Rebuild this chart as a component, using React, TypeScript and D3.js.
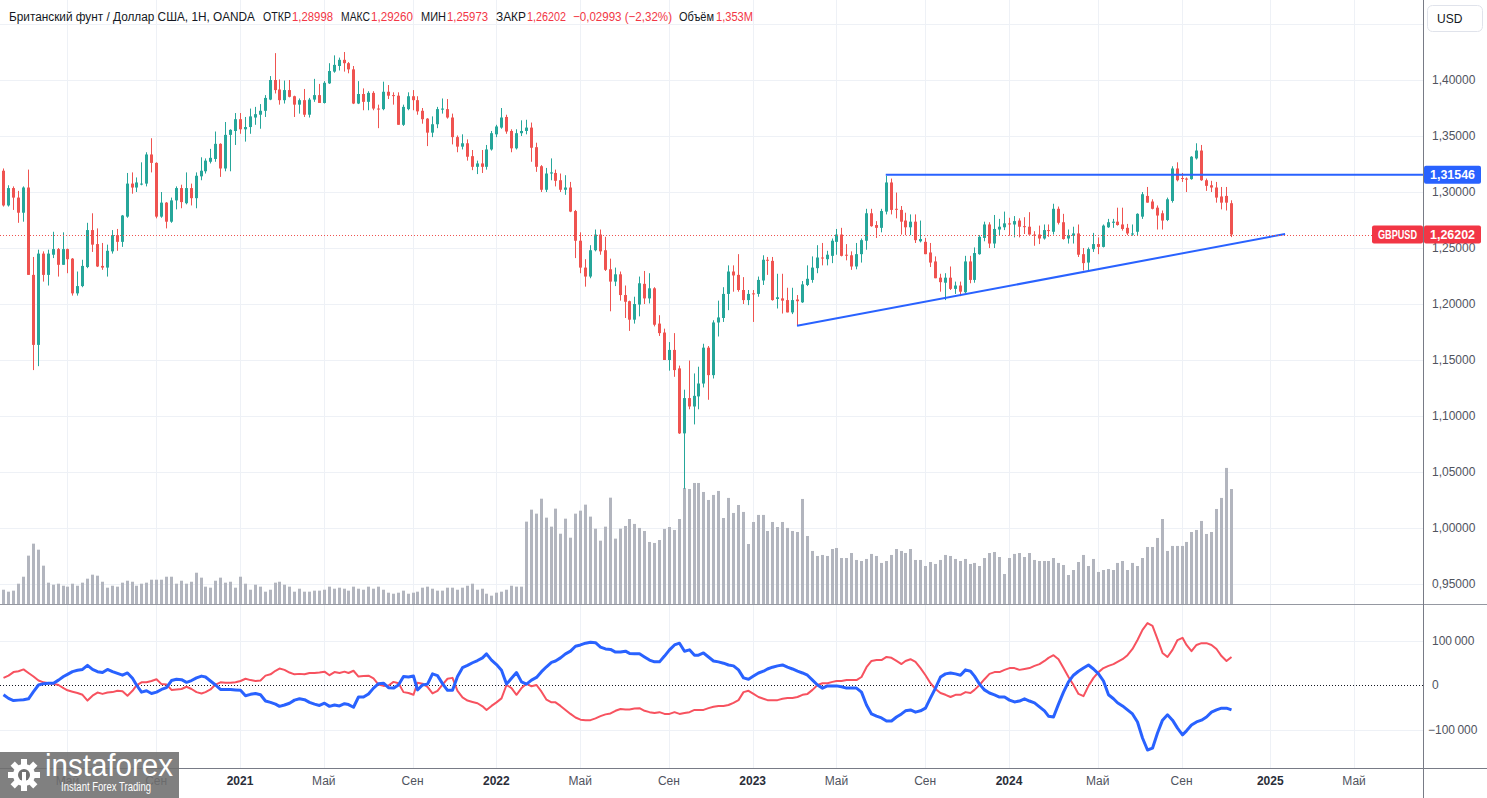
import React, { useEffect, useRef } from "react";
import * as d3 from "d3";

// weekly GBPUSD bars, first bar = week of 2020-02-03
const firstWeek = new Date(2020, 1, 3);

const opens = [
  1.3190, 1.2880, 1.3035, 1.2950, 1.2815, 1.3040, 1.2260, 1.1635, 1.2450, 1.2260,
  1.2440, 1.2490, 1.2350, 1.2490, 1.2405, 1.2095, 1.2160, 1.2330, 1.2660, 1.2535,
  1.2340, 1.2325, 1.2470, 1.2615, 1.2555, 1.2780, 1.3075, 1.3040, 1.3070, 1.3075,
  1.3335, 1.3260, 1.2780, 1.2905, 1.2735, 1.2925, 1.3035, 1.2900, 1.3035, 1.2945,
  1.3140, 1.3185, 1.3270, 1.3295, 1.3430, 1.3210, 1.3510, 1.3545, 1.3650, 1.3560,
  1.3580, 1.3665, 1.3690, 1.3725, 1.3825, 1.4000, 1.3915, 1.3820, 1.3910, 1.3855,
  1.3780, 1.3820, 1.3690, 1.3825, 1.3865, 1.3795, 1.3970, 1.4075, 1.4125, 1.4180,
  1.4150, 1.4095, 1.3790, 1.3875, 1.3805, 1.3885, 1.3745, 1.3740, 1.3895, 1.3865,
  1.3860, 1.3600, 1.3740, 1.3855, 1.3820, 1.3725, 1.3655, 1.3530, 1.3605, 1.3735,
  1.3740, 1.3665, 1.3490, 1.3405, 1.3435, 1.3320, 1.3225, 1.3255, 1.3225, 1.3380,
  1.3515, 1.3575, 1.3670, 1.3545, 1.3390, 1.3525, 1.3545, 1.3575, 1.3400, 1.3230,
  1.3020, 1.3165, 1.3170, 1.3105, 1.3020, 1.3040, 1.2830, 1.2565, 1.2325, 1.2245,
  1.2480, 1.2620, 1.2480, 1.2310, 1.2200, 1.2265, 1.2080, 1.2025, 1.1860, 1.1995,
  1.2180, 1.2050, 1.2140, 1.1825, 1.1745, 1.1500, 1.1590, 1.1425, 1.0845, 1.1160,
  1.1085, 1.1175, 1.1290, 1.1610, 1.1365, 1.1835, 1.1875, 1.2090, 1.2290, 1.2260,
  1.2125, 1.2035, 1.2095, 1.2090, 1.2210, 1.2395, 1.2385, 1.2045, 1.2050, 1.2035,
  1.1925, 1.2040, 1.2015, 1.2170, 1.2215, 1.2320, 1.2415, 1.2400, 1.2430, 1.2555,
  1.2620, 1.2440, 1.2435, 1.2335, 1.2445, 1.2565, 1.2810, 1.2705, 1.2680, 1.2825,
  1.3085, 1.2850, 1.2840, 1.2745, 1.2685, 1.2735, 1.2560, 1.2555, 1.2460, 1.2380,
  1.2235, 1.2190, 1.2235, 1.2135, 1.2165, 1.2105, 1.2380, 1.2215, 1.2445, 1.2590,
  1.2710, 1.2540, 1.2665, 1.2685, 1.2720, 1.2710, 1.2745, 1.2695, 1.2690, 1.2620,
  1.2620, 1.2585, 1.2660, 1.2645, 1.2850, 1.2730, 1.2585, 1.2610, 1.2630, 1.2445,
  1.2370, 1.2490, 1.2535, 1.2510, 1.2685, 1.2725, 1.2735, 1.2710, 1.2680, 1.2620,
  1.2645, 1.2780, 1.2965, 1.2915, 1.2860, 1.2810, 1.2750, 1.2920, 1.3210, 1.3125,
  1.3120, 1.3115, 1.3300, 1.3370, 1.3105, 1.3060, 1.3040, 1.2960, 1.2965, 1.28998,
];

const highs = [
  1.3210, 1.3060, 1.3050, 1.3010, 1.3050, 1.3200, 1.2420, 1.2485, 1.2470, 1.2485,
  1.2645, 1.2500, 1.2640, 1.2495, 1.2410, 1.2290, 1.2395, 1.2725, 1.2810, 1.2675,
  1.2545, 1.2530, 1.2660, 1.2670, 1.2795, 1.3170, 1.3175, 1.3130, 1.3265, 1.3355,
  1.3480, 1.3265, 1.3000, 1.2910, 1.2950, 1.3050, 1.3065, 1.3175, 1.3075, 1.3175,
  1.3310, 1.3300, 1.3385, 1.3540, 1.3435, 1.3625, 1.3560, 1.3705, 1.3705, 1.3670,
  1.3745, 1.3760, 1.3785, 1.3865, 1.4035, 1.4240, 1.4005, 1.3995, 1.4000, 1.3860,
  1.3835, 1.3920, 1.3840, 1.4010, 1.3965, 1.3990, 1.4150, 1.4220, 1.4200, 1.4250,
  1.4160, 1.4125, 1.3990, 1.3925, 1.3900, 1.3900, 1.3780, 1.3985, 1.3955, 1.3890,
  1.3890, 1.3780, 1.3890, 1.3910, 1.3855, 1.3750, 1.3660, 1.3675, 1.3760, 1.3835,
  1.3830, 1.3700, 1.3505, 1.3515, 1.3470, 1.3375, 1.3280, 1.3375, 1.3420, 1.3545,
  1.3600, 1.3750, 1.3690, 1.3560, 1.3560, 1.3640, 1.3645, 1.3620, 1.3440, 1.3240,
  1.3215, 1.3300, 1.3200, 1.3165, 1.3150, 1.3090, 1.2840, 1.2640, 1.2400, 1.2525,
  1.2665, 1.2665, 1.2600, 1.2405, 1.2325, 1.2290, 1.2165, 1.2030, 1.2065, 1.2245,
  1.2295, 1.2275, 1.2150, 1.1900, 1.1780, 1.1660, 1.1740, 1.1450, 1.1235, 1.1495,
  1.1380, 1.1440, 1.1645, 1.1625, 1.1855, 1.2030, 1.2150, 1.2345, 1.2345, 1.2445,
  1.2240, 1.2125, 1.2125, 1.2245, 1.2435, 1.2420, 1.2420, 1.2270, 1.2270, 1.2145,
  1.2145, 1.2080, 1.2205, 1.2345, 1.2425, 1.2525, 1.2545, 1.2475, 1.2585, 1.2670,
  1.2680, 1.2535, 1.2470, 1.2545, 1.2585, 1.2850, 1.2850, 1.2740, 1.2850, 1.3145,
  1.3120, 1.2995, 1.2875, 1.2815, 1.2800, 1.2800, 1.2745, 1.2590, 1.2545, 1.2425,
  1.2270, 1.2275, 1.2335, 1.2200, 1.2200, 1.2430, 1.2430, 1.2505, 1.2615, 1.2735,
  1.2730, 1.2795, 1.2760, 1.2825, 1.2770, 1.2785, 1.2765, 1.2775, 1.2820, 1.2650,
  1.2700, 1.2710, 1.2710, 1.2895, 1.2870, 1.2805, 1.2665, 1.2690, 1.2710, 1.2500,
  1.2505, 1.2635, 1.2595, 1.2710, 1.2760, 1.2760, 1.2860, 1.2860, 1.2715, 1.2710,
  1.2810, 1.3000, 1.3045, 1.2935, 1.2880, 1.2835, 1.2950, 1.3230, 1.3265, 1.3170,
  1.3130, 1.3320, 1.3435, 1.3420, 1.3120, 1.3100, 1.3090, 1.3045, 1.3045, 1.29260,
];

const lows = [
  1.2870, 1.2870, 1.2840, 1.2725, 1.2735, 1.2260, 1.1410, 1.1445, 1.2200, 1.2165,
  1.2410, 1.2245, 1.2350, 1.2275, 1.2075, 1.2075, 1.2150, 1.2320, 1.2465, 1.2330,
  1.2305, 1.2245, 1.2450, 1.2475, 1.2510, 1.2770, 1.2985, 1.3000, 1.3060, 1.3050,
  1.3175, 1.2765, 1.2770, 1.2675, 1.2725, 1.2845, 1.2855, 1.2890, 1.2880, 1.2855,
  1.3105, 1.3165, 1.3255, 1.3270, 1.3135, 1.3185, 1.3185, 1.3420, 1.3520, 1.3450,
  1.3520, 1.3600, 1.3565, 1.3670, 1.3820, 1.3880, 1.3780, 1.3790, 1.3845, 1.3670,
  1.3700, 1.3670, 1.3665, 1.3805, 1.3795, 1.3790, 1.3965, 1.4065, 1.4085, 1.4075,
  1.4060, 1.3785, 1.3785, 1.3730, 1.3730, 1.3730, 1.3570, 1.3730, 1.3830, 1.3780,
  1.3600, 1.3590, 1.3730, 1.3730, 1.3690, 1.3610, 1.3410, 1.3490, 1.3570, 1.3700,
  1.3655, 1.3425, 1.3355, 1.3380, 1.3280, 1.3195, 1.3160, 1.3170, 1.3200, 1.3370,
  1.3490, 1.3565, 1.3520, 1.3355, 1.3380, 1.3500, 1.3515, 1.3270, 1.3180, 1.3000,
  1.3000, 1.3105, 1.3050, 1.3000, 1.2975, 1.2820, 1.2410, 1.2275, 1.2155, 1.2230,
  1.2470, 1.2440, 1.2295, 1.1935, 1.2160, 1.2030, 1.1875, 1.1760, 1.1825, 1.1890,
  1.2000, 1.2005, 1.1800, 1.1715, 1.1500, 1.1405, 1.1350, 1.0840, 1.0350, 1.1060,
  1.0925, 1.1060, 1.1255, 1.1145, 1.1335, 1.1710, 1.1840, 1.1945, 1.2110, 1.2110,
  1.2000, 1.1990, 1.1840, 1.2065, 1.2170, 1.2260, 1.2030, 1.1960, 1.1915, 1.1925,
  1.1910, 1.1805, 1.2010, 1.2160, 1.2190, 1.2275, 1.2345, 1.2345, 1.2365, 1.2440,
  1.2425, 1.2390, 1.2305, 1.2310, 1.2370, 1.2485, 1.2690, 1.2590, 1.2640, 1.2800,
  1.2800, 1.2765, 1.2620, 1.2615, 1.2615, 1.2545, 1.2550, 1.2445, 1.2330, 1.2230,
  1.2110, 1.2035, 1.2125, 1.2090, 1.2070, 1.2095, 1.2185, 1.2190, 1.2440, 1.2560,
  1.2500, 1.2500, 1.2610, 1.2660, 1.2610, 1.2595, 1.2595, 1.2625, 1.2620, 1.2520,
  1.2535, 1.2575, 1.2600, 1.2620, 1.2710, 1.2575, 1.2540, 1.2540, 1.2420, 1.2300,
  1.2300, 1.2465, 1.2445, 1.2505, 1.2680, 1.2680, 1.2700, 1.2655, 1.2615, 1.2610,
  1.2615, 1.2760, 1.2905, 1.2845, 1.2665, 1.2665, 1.2740, 1.2905, 1.3095, 1.3090,
  1.3000, 1.3110, 1.3290, 1.3100, 1.3010, 1.3000, 1.2905, 1.2845, 1.2835, 1.25973,
];

const closes = [
  1.2880, 1.3035, 1.2950, 1.2815, 1.3040, 1.2260, 1.1635, 1.2450, 1.2260, 1.2450,
  1.2490, 1.2350, 1.2490, 1.2400, 1.2095, 1.2160, 1.2340, 1.2660, 1.2530, 1.2335,
  1.2325, 1.2475, 1.2615, 1.2555, 1.2790, 1.3075, 1.3040, 1.3085, 1.3075, 1.3335,
  1.3260, 1.2780, 1.2905, 1.2735, 1.2925, 1.3035, 1.2910, 1.3035, 1.2945, 1.3145,
  1.3190, 1.3280, 1.3305, 1.3430, 1.3210, 1.3510, 1.3555, 1.3650, 1.3560, 1.3580,
  1.3675, 1.3695, 1.3725, 1.3840, 1.4000, 1.3910, 1.3820, 1.3910, 1.3850, 1.3780,
  1.3820, 1.3690, 1.3825, 1.3865, 1.3795, 1.3975, 1.4080, 1.4135, 1.4180, 1.4150,
  1.4095, 1.3790, 1.3875, 1.3805, 1.3885, 1.3745, 1.3740, 1.3895, 1.3860, 1.3860,
  1.3600, 1.3760, 1.3855, 1.3820, 1.3720, 1.3650, 1.3530, 1.3605, 1.3740, 1.3745,
  1.3665, 1.3490, 1.3405, 1.3435, 1.3315, 1.3225, 1.3255, 1.3225, 1.3380, 1.3525,
  1.3585, 1.3665, 1.3540, 1.3390, 1.3525, 1.3545, 1.3575, 1.3395, 1.3225, 1.3020,
  1.3165, 1.3175, 1.3100, 1.3020, 1.3040, 1.2825, 1.2565, 1.2325, 1.2245, 1.2480,
  1.2620, 1.2470, 1.2305, 1.2200, 1.2265, 1.2080, 1.2020, 1.1860, 1.2000, 1.2185,
  1.2050, 1.2140, 1.1815, 1.1740, 1.1500, 1.1590, 1.1410, 1.0845, 1.1160, 1.1085,
  1.1180, 1.1290, 1.1610, 1.1365, 1.1835, 1.1880, 1.2090, 1.2290, 1.2255, 1.2125,
  1.2035, 1.2090, 1.2090, 1.2215, 1.2395, 1.2390, 1.2035, 1.2060, 1.2030, 1.1925,
  1.2035, 1.2025, 1.2175, 1.2225, 1.2325, 1.2415, 1.2410, 1.2440, 1.2565, 1.2620,
  1.2430, 1.2435, 1.2335, 1.2445, 1.2570, 1.2810, 1.2695, 1.2680, 1.2830, 1.3085,
  1.2840, 1.2845, 1.2735, 1.2685, 1.2735, 1.2570, 1.2580, 1.2445, 1.2370, 1.2230,
  1.2195, 1.2235, 1.2135, 1.2165, 1.2110, 1.2380, 1.2215, 1.2455, 1.2600, 1.2710,
  1.2540, 1.2670, 1.2690, 1.2720, 1.2710, 1.2740, 1.2690, 1.2690, 1.2620, 1.2615,
  1.2585, 1.2660, 1.2655, 1.2850, 1.2725, 1.2580, 1.2615, 1.2630, 1.2440, 1.2365,
  1.2490, 1.2535, 1.2510, 1.2700, 1.2730, 1.2735, 1.2705, 1.2670, 1.2630, 1.2630,
  1.2805, 1.2980, 1.2905, 1.2850, 1.2790, 1.2745, 1.2935, 1.3210, 1.3105, 1.3120,
  1.3110, 1.3315, 1.3370, 1.3105, 1.3055, 1.3040, 1.2950, 1.2905, 1.2905, 1.26202,
];

// volume, thousands
const volumes = [
  168, 145, 157, 239, 321, 569, 710, 639, 451, 251,
  227, 239, 215, 204, 239, 215, 251, 298, 345, 333,
  262, 192, 215, 204, 251, 274, 262, 215, 239, 251,
  286, 286, 286, 321, 321, 239, 274, 239, 262, 368,
  310, 204, 192, 274, 310, 251, 262, 192, 321, 239,
  168, 227, 204, 145, 168, 251, 262, 227, 204, 145,
  180, 145, 145, 157, 157, 168, 204, 180, 192, 180,
  157, 204, 180, 168, 204, 180, 204, 168, 133, 121,
  133, 157, 121, 133, 145, 192, 204, 180, 157, 157,
  192, 192, 168, 192, 215, 239, 168, 180, 121, 98,
  133, 145, 168, 215, 204, 204, 969, 1110, 1063, 1239,
  1016, 910, 1122, 827, 1004, 780, 1063, 1098, 1169, 1028,
  886, 745, 910, 1251, 769, 886, 918, 1000, 942, 895,
  859, 730, 718, 753, 883, 906, 871, 1000, 1365, 1353,
  1424, 1424, 1318, 1224, 1283, 1330, 1012, 1248, 1071, 1165,
  1083, 706, 965, 1048, 1048, 859, 965, 906, 965, 895,
  859, 847, 1236, 800, 624, 565, 577, 565, 647, 659,
  541, 541, 600, 518, 506, 530, 589, 565, 483, 506,
  577, 647, 624, 600, 647, 518, 518, 447, 494, 471,
  518, 577, 565, 530, 506, 530, 471, 483, 447, 541,
  600, 612, 553, 353, 541, 589, 600, 553, 600, 518,
  506, 506, 506, 541, 483, 459, 341, 400, 494, 577,
  447, 530, 377, 400, 412, 400, 483, 506, 400, 483,
  447, 541, 671, 671, 777, 1000, 624, 683, 683, 683,
  730, 847, 871, 977, 824, 847, 1118, 1248, 1601, 1353,
];

// lower pane, thousands
const blueLine = [
  -22, -30, -35, -34, -33, -31, -15, 0, 3, 4,
  4, 11, 19, 24, 30, 33, 35, 44, 35, 30,
  28, 35, 30, 26, 22, 27, 15, 0, -16, -13,
  -19, -16, -10, -6, 10, 13, 12, 6, 10, 16,
  20, 18, 9, 0, -10, -10, -10, -11, -12, -24,
  -21, -19, -22, -36, -39, -43, -48, -45, -41, -34,
  -31, -33, -39, -43, -46, -41, -48, -45, -47, -42,
  -44, -50, -27, -27, -20, -7, 3, 4, -6, -7,
  0, 19, 18, 20, -11, 0, 2, 25, 21, 3,
  -12, -12, 19, 39, 44, 50, 55, 61, 70, 56,
  46, 33, 2, 15, 28, 7, 2, 11, 17, 30,
  41, 51, 54, 61, 70, 76, 87, 90, 94, 96,
  95, 85, 81, 80, 74, 74, 76, 71, 70, 70,
  63, 56, 52, 52, 65, 79, 90, 94, 76, 79,
  67, 67, 72, 63, 54, 52, 49, 45, 43, 34,
  16, 13, 20, 27, 31, 36, 40, 43, 45, 40,
  36, 31, 27, 22, 11, 0, -7, -2, -2, -2,
  -4, -7, -7, -7, -16, -45, -65, -70, -74, -81,
  -81, -72, -65, -58, -56, -61, -58, -52, -29, -7,
  18, 25, 27, 25, 22, 34, 31, 20, 2, -11,
  -18, -22, -27, -27, -34, -38, -36, -31, -36, -40,
  -49, -58, -70, -72, -43, -16, 7, 22, 31, 38,
  45, 36, 25, 9, -22, -31, -40, -47, -56, -65,
  -83, -119, -146, -142, -108, -79, -67, -79, -97, -112,
  -103, -90, -83, -79, -72, -61, -56, -52, -52, -56,
];

const redLine = [
  16, 21, 29, 31, 35, 27, 19, 10, 6, 4,
  3, 0, -7, -12, -15, -18, -22, -35, -24, -17,
  -20, -17, -16, -13, -14, -24, -13, -1, 6, 6,
  9, 13, 2, 1, -11, -10, -9, -4, -9, -16,
  -19, -16, -10, 1, 6, 5, 5, 6, 9, 14,
  11, 9, 10, 21, 24, 32, 37, 34, 28, 24,
  25, 24, 27, 27, 28, 30, 22, 29, 27, 30,
  27, 32, 19, 20, 21, 15, 1, -2, -1, 7,
  4, -16, -18, -22, 5, 3, -4, -19, -13, 1,
  14, 16, -13, -28, -35, -38, -41, -48, -56, -47,
  -39, -30, 0, -7, -22, -7, 3, -3, 0, -15,
  -33, -39, -39, -47, -56, -65, -73, -78, -79, -79,
  -75, -70, -66, -64, -58, -54, -55, -55, -53, -52,
  -58, -61, -63, -61, -65, -65, -61, -65, -63, -61,
  -56, -56, -56, -52, -49, -47, -47, -45, -40, -34,
  -16, -13, -20, -27, -31, -34, -34, -34, -31, -29,
  -29, -27, -22, -20, -11, 0, 4, 4, 7, 9,
  9, 11, 11, 11, 18, 40, 54, 56, 56, 63,
  61, 54, 47, 54, 58, 52, 38, 22, 4, -9,
  -18, -22, -27, -22, -22, -16, -18, -11, 0, 13,
  25, 29, 29, 34, 38, 38, 34, 36, 38, 43,
  47, 54, 61, 67, 58, 38, 18, 0, -20, -25,
  -2, 16, 29, 38, 43, 47, 52, 58, 67, 81,
  101, 124, 139, 133, 103, 72, 63, 79, 101, 106,
  90, 76, 90, 94, 94, 90, 81, 65, 54, 63,
];

const timeTicks: [string, string][] = [
  ["2020-05-04", "Май"], ["2020-09-07", "Сен"], ["2021-01-04", "2021"],
  ["2021-05-03", "Май"], ["2021-09-06", "Сен"], ["2022-01-03", "2022"],
  ["2022-05-02", "Май"], ["2022-09-05", "Сен"], ["2023-01-02", "2023"],
  ["2023-05-01", "Май"], ["2023-09-04", "Сен"], ["2024-01-01", "2024"],
  ["2024-05-06", "Май"], ["2024-09-02", "Сен"], ["2025-01-06", "2025"],
  ["2025-05-05", "Май"],
];
const priceTicks = [0.95, 1.0, 1.05, 1.1, 1.15, 1.2, 1.25, 1.3, 1.35, 1.4];
const oscTicks = [100, 0, -100];
const levelStart = "2023-07-10";
const levelPrice = 1.31546;
const trendPoints: [string, number][] = [["2023-03-06", 1.1805], ["2025-01-27", 1.2625]];
const lastPrice = 1.26202;

// header pieces: text, left x, width, red?
const headerParts: [string, number, number, boolean][] = [
  ["Британский фунт / Доллар США, 1Н, OANDA", 9, 246, false],
  ["ОТКР", 263, 28, false],
  ["1,28998", 292, 41, true],
  ["МАКС", 341, 29, false],
  ["1,29260", 371, 42, true],
  ["МИН", 421, 25, false],
  ["1,25973", 447, 41, true],
  ["ЗАКР", 496, 30, false],
  ["1,26202", 527, 39, true],
  ["\u22120,02993 (\u22122,32%)", 573, 99, true],
  ["Объём", 679, 35, false],
  ["1,353M", 716, 37, true],
];

const UP = "#26a69a";
const DOWN = "#ef5350";
const FONT = "'Liberation Sans', Arial, sans-serif";

const parse = (s: string) => {
  const [y, m, d] = s.split("-").map(Number);
  return new Date(y, m - 1, d);
};
const fmtPrice = (v: number) => v.toFixed(5).replace(".", ",");

function App() {
  const svgRef = useRef<SVGSVGElement>(null);

  useEffect(() => {
    const svg = d3.select(svgRef.current);
    svg.selectAll("*").remove();

    const plotR = 1423;
    const dates = opens.map((_, i) => d3.timeDay.offset(firstWeek, i * 7));
    const x = d3.scaleTime().domain([parse("2021-01-04"), parse("2024-01-01")]).range([240, 1009]);
    const y = d3.scaleLinear().domain([0.95, 1.4]).range([584, 80]);
    const yVol = d3.scaleLinear().domain([0, 1353]).range([604, 489]);
    const yOsc = d3.scaleLinear().domain([-100, 100]).range([729.5, 640.5]);
    const cx = (i: number) => Math.round(x(dates[i]));

    svg.append("rect").attr("width", 1487).attr("height", 798).attr("fill", "#ffffff");

    // grid
    const grid = svg.append("g").attr("stroke", "#eef1f6").attr("stroke-width", 1);
    timeTicks.forEach(([d]) => {
      const gx = Math.round(x(parse(d))) + 0.5;
      grid.append("line").attr("x1", gx).attr("x2", gx).attr("y1", 0).attr("y2", 768);
    });
    [...priceTicks, 1.45].forEach((p) => {
      const gy = Math.round(y(p)) + 0.5;
      grid.append("line").attr("x1", 0).attr("x2", plotR).attr("y1", gy).attr("y2", gy);
    });
    [100, -100].forEach((v) => {
      const gy = Math.round(yOsc(v)) + 0.5;
      grid.append("line").attr("x1", 0).attr("x2", plotR).attr("y1", gy).attr("y2", gy);
    });

    // volume
    svg.append("g").selectAll("rect").data(volumes).join("rect")
      .attr("x", (_, i) => cx(i) - 1)
      .attr("width", 3)
      .attr("y", (v) => yVol(v))
      .attr("height", (v) => 604 - yVol(v))
      .attr("fill", "#b2b5be");

    // candles
    const cg = svg.append("g");
    opens.forEach((o, i) => {
      const c = closes[i];
      const col = c >= o ? UP : DOWN;
      const X = cx(i);
      const yh = y(highs[i]);
      const yl = y(lows[i]);
      cg.append("rect").attr("x", X).attr("width", 1).attr("y", yh).attr("height", Math.max(1, yl - yh)).attr("fill", col);
      const top = y(Math.max(o, c));
      const bot = y(Math.min(o, c));
      cg.append("rect").attr("x", X - 1).attr("width", 3).attr("y", top).attr("height", Math.max(1, bot - top)).attr("fill", col);
    });

    // drawn lines
    svg.append("line")
      .attr("x1", x(parse(levelStart))).attr("x2", plotR)
      .attr("y1", y(levelPrice)).attr("y2", y(levelPrice))
      .attr("stroke", "#2962ff").attr("stroke-width", 2);
    svg.append("line")
      .attr("x1", x(parse(trendPoints[0][0]))).attr("y1", y(trendPoints[0][1]))
      .attr("x2", x(parse(trendPoints[1][0]))).attr("y2", y(trendPoints[1][1]))
      .attr("stroke", "#2962ff").attr("stroke-width", 2);

    // last price line
    const lpY = Math.round(y(lastPrice)) + 0.5;
    svg.append("line").attr("x1", 0).attr("x2", plotR).attr("y1", lpY).attr("y2", lpY)
      .attr("stroke", DOWN).attr("stroke-width", 1).attr("stroke-dasharray", "1,2");

    // lower pane
    const zy = Math.round(yOsc(0)) + 0.5;
    svg.append("line").attr("x1", 0).attr("x2", plotR).attr("y1", zy).attr("y2", zy)
      .attr("stroke", "#131722").attr("stroke-width", 1).attr("stroke-dasharray", "1,2");
    const oscLine = d3.line<number>().x((_, i) => cx(i) + 0.5).y((v) => yOsc(v));
    svg.append("path").attr("d", oscLine(redLine)).attr("fill", "none")
      .attr("stroke", "#f7525f").attr("stroke-width", 2).attr("stroke-linejoin", "round");
    svg.append("path").attr("d", oscLine(blueLine)).attr("fill", "none")
      .attr("stroke", "#2962ff").attr("stroke-width", 3).attr("stroke-linejoin", "round");

    // frame
    svg.append("line").attr("x1", 0).attr("x2", 1487).attr("y1", 604.5).attr("y2", 604.5).attr("stroke", "#9598a1");
    svg.append("line").attr("x1", 0).attr("x2", 1487).attr("y1", 768.5).attr("y2", 768.5).attr("stroke", "#787b86");
    svg.append("line").attr("x1", plotR + 0.5).attr("x2", plotR + 0.5).attr("y1", 0).attr("y2", 798).attr("stroke", "#787b86");

    // axis labels
    const ax = svg.append("g").attr("font-family", FONT).attr("font-size", 12).attr("fill", "#50535e");
    priceTicks.forEach((p) => {
      ax.append("text").attr("x", 1432).attr("y", y(p)).attr("dy", "0.35em").text(fmtPrice(p));
    });
    oscTicks.forEach((v) => {
      const label = v === 0 ? "0" : (v < 0 ? "\u2212" : "") + Math.abs(v) + "\u202f000";
      ax.append("text").attr("x", v < 0 ? 1428 : 1432).attr("y", yOsc(v)).attr("dy", "0.35em").text(label);
    });
    timeTicks.forEach(([d, label]) => {
      const isYear = /^\d+$/.test(label);
      ax.append("text").attr("x", x(parse(d))).attr("y", 785).attr("text-anchor", "middle")
        .attr("font-weight", isYear ? "bold" : "normal").attr("fill", isYear ? "#2a2e39" : "#50535e").text(label);
    });

    // price badges
    const badge = (bx: number, by: number, w: number, fill: string, text: string) => {
      svg.append("rect").attr("x", bx).attr("y", by - 9).attr("width", w).attr("height", 18).attr("rx", 2).attr("fill", fill);
      svg.append("text").attr("x", bx + 6).attr("y", by).attr("dy", "0.36em").attr("fill", "#fff")
        .attr("font-family", FONT).attr("font-size", 12).attr("font-weight", "bold")
        .attr("textLength", w - 12).attr("lengthAdjust", "spacingAndGlyphs").text(text);
    };
    badge(1424, y(levelPrice), 57, "#2962ff", fmtPrice(levelPrice));
    badge(1372, y(lastPrice), 51, "#f23645", "GBPUSD");
    badge(1424, y(lastPrice), 57, "#f23645", fmtPrice(lastPrice));

    // USD box
    svg.append("rect").attr("x", 1427.5).attr("y", 5.5).attr("width", 55).attr("height", 26).attr("rx", 5)
      .attr("fill", "#fff").attr("stroke", "#e0e3eb");
    svg.append("text").attr("x", 1437).attr("y", 22.5).attr("font-family", FONT).attr("font-size", 12)
      .attr("fill", "#131722").text("USD");

    // header
    const hd = svg.append("g").attr("font-family", FONT).attr("font-size", 12.5);
    headerParts.forEach(([text, hx, w, isRed]) => {
      hd.append("text").attr("x", hx).attr("y", 21).attr("fill", isRed ? "#f23645" : "#131722")
        .attr("textLength", w).attr("lengthAdjust", "spacingAndGlyphs").text(text);
    });

    // logo (semi-transparent, lets the first axis labels show through as in the source)
    const lg = svg.append("g");
    lg.append("rect").attr("x", 0).attr("y", 752).attr("width", 179).attr("height", 46).attr("fill", "#6e6e6e").attr("opacity", 0.88);
    const gear = lg.append("g").attr("transform", "translate(24,775)");
    d3.range(8).forEach((k) => {
      gear.append("rect").attr("x", -3).attr("y", -16).attr("width", 6).attr("height", 8).attr("fill", "#fff")
        .attr("transform", `rotate(${k * 45})`);
    });
    gear.append("circle").attr("r", 11).attr("fill", "#fff");
    gear.append("circle").attr("r", 6).attr("fill", "#707070");
    gear.append("rect").attr("x", -2).attr("y", -3).attr("width", 4).attr("height", 14).attr("fill", "#fff");
    lg.append("text").attr("x", 45).attr("y", 776).attr("font-family", FONT).attr("font-size", 31)
      .attr("fill", "#fff").attr("textLength", 128).attr("lengthAdjust", "spacingAndGlyphs").text("instaforex");
    lg.append("text").attr("x", 61).attr("y", 791).attr("font-family", FONT).attr("font-size", 12)
      .attr("fill", "#fff").attr("textLength", 90).attr("lengthAdjust", "spacingAndGlyphs").text("Instant Forex Trading");
  }, []);

  return (
    <svg
      ref={svgRef}
      width={1487}
      height={798}
      style={{ position: "fixed", left: 0, top: 0, display: "block" }}
    />
  );
}

export default App;
